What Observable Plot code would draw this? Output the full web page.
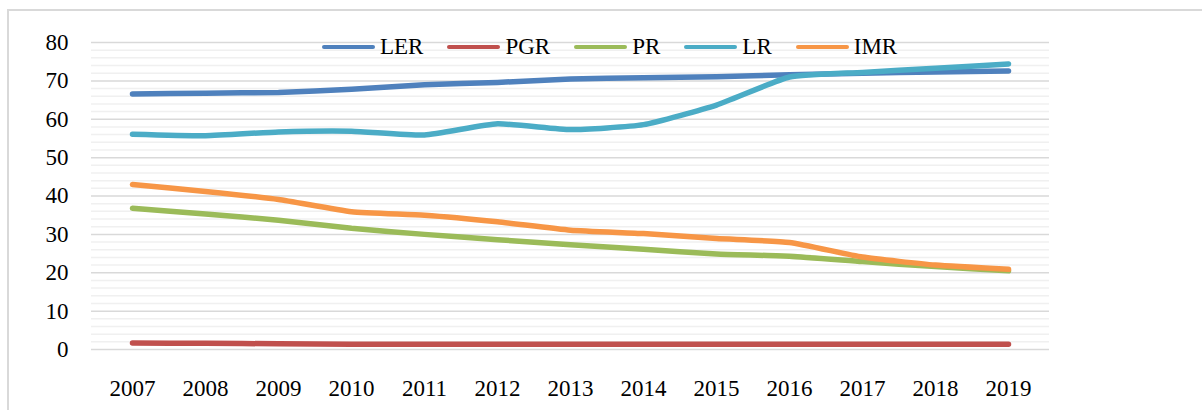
<!DOCTYPE html>
<html>
<head>
<meta charset="utf-8">
<script src="https://cdn.jsdelivr.net/npm/d3@7"></script>
<script src="https://cdn.jsdelivr.net/npm/@observablehq/plot@0.6"></script>
<style>
  html, body { margin: 0; padding: 0; background: #fff; overflow: hidden; width: 1202px; height: 410px; }
  #wrap { position: relative; width: 1202px; height: 410px; }
  #border { position: absolute; left: 7px; top: 9px; width: 1300px; height: 600px; border: 2px solid #d9d9d9; box-sizing: border-box; }
  #chart { position: absolute; left: 0; top: 0; }
  #legend { position: absolute; left: 322px; top: 34px; display: flex; align-items: center; font-family: "Liberation Serif", serif; font-size: 23px; color: #000; line-height: 26px; }
  .item { display: flex; align-items: center; margin-right: 24px; }
  .sw { display: inline-block; width: 53px; height: 4px; border-radius: 2px; margin-right: 5px; }
</style>
</head>
<body>
<div id="wrap">
  <div id="border"></div>
  <div id="chart"></div>
  <div id="legend"></div>
</div>
<script>
const years = ["2007","2008","2009","2010","2011","2012","2013","2014","2015","2016","2017","2018","2019"];
const LER = [66.6, 66.8, 67.0, 67.8, 69.0, 69.6, 70.5, 70.8, 71.1, 71.6, 72.0, 72.3, 72.6];
const PGR = [1.7, 1.6, 1.5, 1.4, 1.4, 1.4, 1.4, 1.4, 1.4, 1.4, 1.4, 1.4, 1.4];
const PR  = [36.8, 35.3, 33.7, 31.6, 30.0, 28.6, 27.3, 26.1, 24.9, 24.3, 22.9, 21.6, 20.5];
const LR  = [56.1, 55.7, 56.7, 56.9, 55.9, 58.8, 57.3, 58.6, 63.7, 71.0, 72.2, 73.3, 74.4];
const IMR = [43.0, 41.2, 39.1, 35.9, 35.0, 33.3, 31.1, 30.2, 28.9, 27.9, 24.1, 22.0, 20.9];
const seriesNames = ["LER", "PGR", "PR", "LR", "IMR"];
const seriesColors = ["#4f81bd", "#c0504d", "#9bbb59", "#4bacc6", "#f79646"];
const yTicks = [0, 10, 20, 30, 40, 50, 60, 70, 80];

const seriesValues = {LER, PGR, PR, LR, IMR};
const rows = seriesNames.flatMap(s => years.map((y, i) => ({series: s, year: y, value: seriesValues[s][i]})));
const minorTicks = d3.range(0, 81, 2).filter(v => v % 10 !== 0);

const lineMarks = seriesNames.map(s => Plot.line(rows.filter(r => r.series === s), {
  x: "year", y: "value", stroke: "series",
  strokeWidth: 5.5, strokeLinecap: "round", strokeLinejoin: "round",
  curve: "cardinal", tension: 0.5
}));

const chart = Plot.plot({
  width: 1202,
  height: 410,
  marginLeft: 91,
  marginRight: 153,
  marginTop: 42,
  marginBottom: 61,
  style: {fontFamily: "Liberation Serif, serif", fontSize: "23px", color: "#000", background: "transparent"},
  x: {type: "point", domain: years, padding: 0.5, label: null, tickSize: 0, tickPadding: 30},
  y: {domain: [0, 80], ticks: yTicks, label: null, tickSize: 0, tickPadding: 23},
  color: {domain: seriesNames, range: seriesColors},
  marks: [
    Plot.ruleY(minorTicks, {stroke: "#f0f0f0", strokeWidth: 1.5}),
    Plot.ruleY(yTicks, {stroke: "#d9d9d9", strokeWidth: 1.5}),
    ...lineMarks
  ]
});
document.getElementById("chart").appendChild(chart);

const legend = document.getElementById("legend");
seriesNames.forEach((s, i) => {
  const item = document.createElement("div");
  item.className = "item";
  const sw = document.createElement("span");
  sw.className = "sw";
  sw.style.background = seriesColors[i];
  const t = document.createElement("span");
  t.textContent = s;
  item.appendChild(sw);
  item.appendChild(t);
  legend.appendChild(item);
});
</script>
</body>
</html>
